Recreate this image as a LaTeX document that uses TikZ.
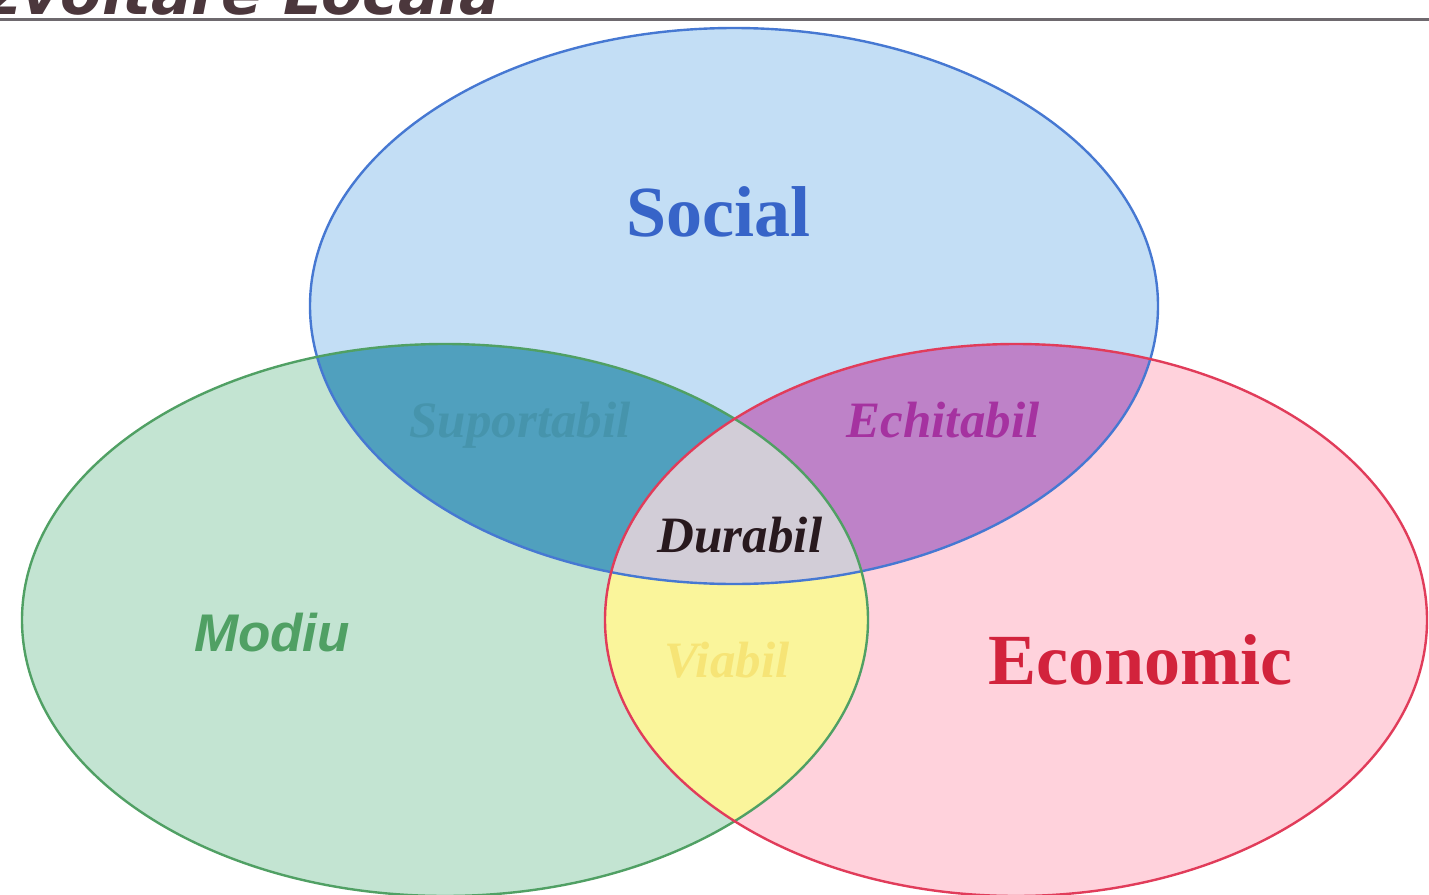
\documentclass[tikz,border=0pt]{standalone}
\usepackage{fontspec}
\setmainfont{Liberation Serif}
\newfontfamily\hdrfont{DejaVu Sans}
\newfontfamily\sansfont{Liberation Sans}
\definecolor{sfill}{RGB}{195,222,245}
\definecolor{gfill}{RGB}{195,228,210}
\definecolor{rfill}{RGB}{255,210,220}
\definecolor{tealfill}{RGB}{80,160,190}
\definecolor{purpfill}{RGB}{190,130,200}
\definecolor{greyfill}{RGB}{210,205,215}
\definecolor{yelfill}{RGB}{250,245,155}
\definecolor{sline}{RGB}{70,120,210}
\definecolor{gline}{RGB}{80,160,100}
\definecolor{rline}{RGB}{225,60,90}
\definecolor{stext}{RGB}{55,100,200}
\definecolor{etext}{RGB}{210,35,60}
\definecolor{ectext}{RGB}{165,50,160}
\definecolor{dtext}{RGB}{40,25,30}
\definecolor{mtext}{RGB}{80,160,100}
\definecolor{sutext}{RGB}{70,148,172}
\definecolor{vtext}{RGB}{246,228,118}
\definecolor{hdrtext}{RGB}{75,55,60}
\definecolor{rulecol}{RGB}{110,105,110}
\tikzset{
  bigserif/.style={font=\fontsize{36}{40}\selectfont\bfseries, inner sep=0pt},
  smallital/.style={font=\fontsize{25.5}{28}\selectfont\bfseries\itshape, inner sep=0pt},
  edge/.style={line width=1.2pt}
}
\begin{document}
\begin{tikzpicture}[x=0.5pt,y=-0.5pt]
\useasboundingbox (0,0) rectangle (1429,894);
\clip (0,0) rectangle (1429,894);
\fill[white] (0,0) rectangle (1429,894);
% header
\node[anchor=base east, inner sep=0pt, text=hdrtext, font=\hdrfont\fontsize{30}{34}\selectfont\bfseries\itshape] (hdr) at (500,14) {Dezvoltare Locala};
\draw[rulecol, line width=1.5pt] (0,19) -- (1429,19);
% base fills
\fill[sfill] (734,306) ellipse [x radius=424, y radius=278];
\fill[gfill] (445,620) ellipse [x radius=423, y radius=276];
\fill[rfill] (1016,620) ellipse [x radius=411, y radius=276];
% pair intersections
\begin{scope}
  \clip (734,306) ellipse [x radius=424, y radius=278];
  \fill[tealfill] (445,620) ellipse [x radius=423, y radius=276];
  \fill[purpfill] (1016,620) ellipse [x radius=411, y radius=276];
\end{scope}
\begin{scope}
  \clip (445,620) ellipse [x radius=423, y radius=276];
  \fill[yelfill] (1016,620) ellipse [x radius=411, y radius=276];
\end{scope}
\begin{scope}
  \clip (734,306) ellipse [x radius=424, y radius=278];
  \clip (445,620) ellipse [x radius=423, y radius=276];
  \fill[greyfill] (1016,620) ellipse [x radius=411, y radius=276];
\end{scope}
% outlines
\draw[edge, sline] (734,306) ellipse [x radius=424, y radius=278];
\draw[edge, gline] (445,620) ellipse [x radius=423, y radius=276];
\draw[edge, rline] (1016,620) ellipse [x radius=411, y radius=276];
% labels
\node[bigserif, text=stext] (social) at (718,212) {Social};
\node[bigserif, text=etext] (economic) at (1140,660) {Economic};
\node[smallital, text=ectext] (echitabil) at (943,420) {Echitabil};
\node[smallital, text=dtext] (durabil) at (740,535) {Durabil};
\node[inner sep=0pt, text=mtext, font=\sansfont\fontsize{26.5}{29}\selectfont\bfseries\itshape] (modiu) at (272,633) {Modiu};
\node[smallital, text=sutext] (suport) at (520,425) {Suportabil};
\node[smallital, text=vtext] (viabil) at (727,660) {Viabil};
\end{tikzpicture}
\end{document}
